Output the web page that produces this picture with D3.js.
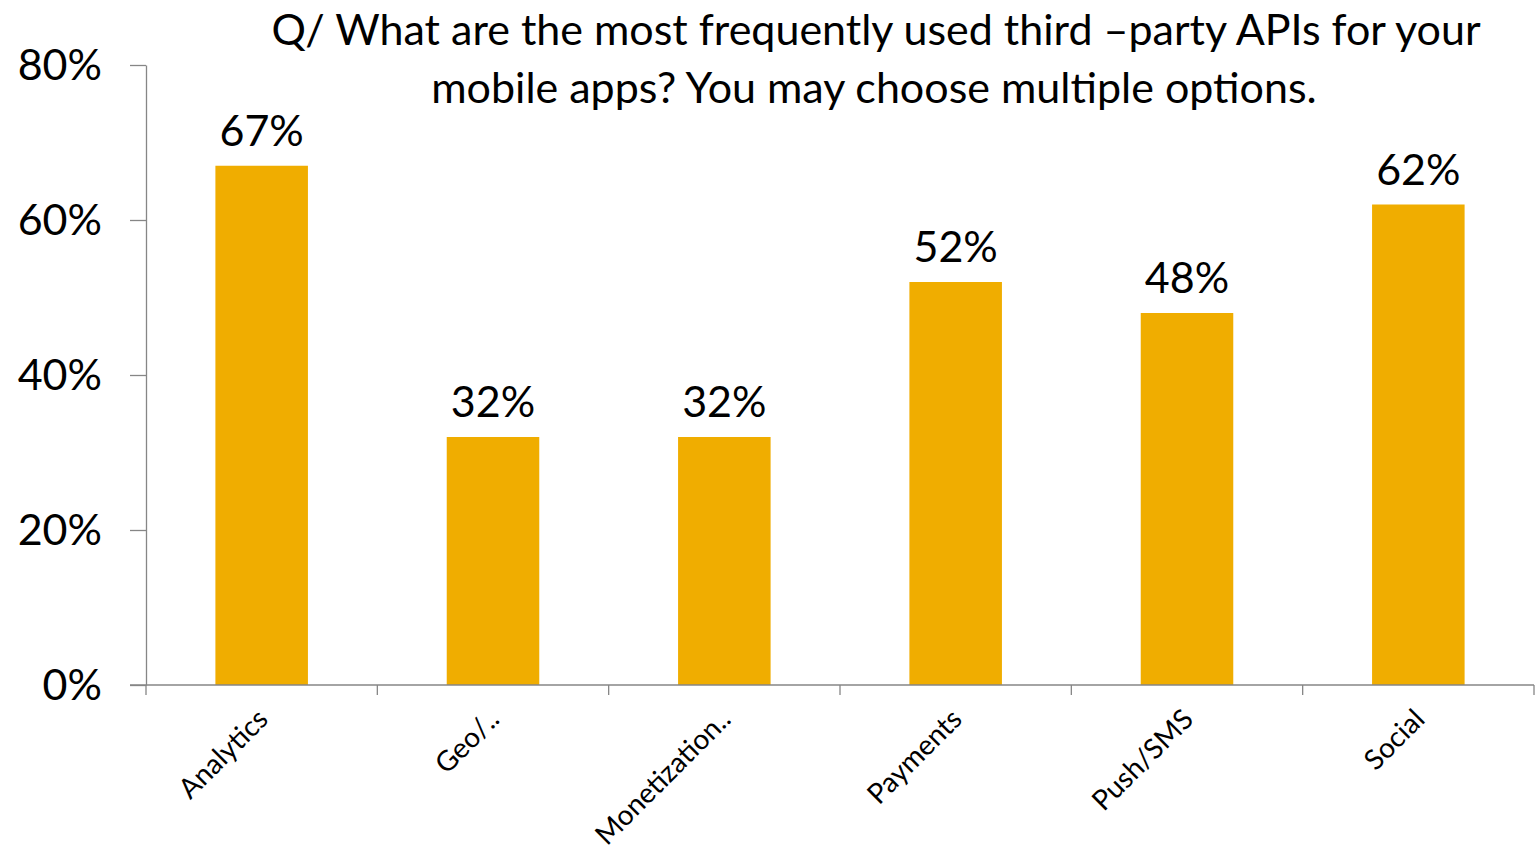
<!DOCTYPE html>
<html>
<head>
<meta charset="utf-8">
<script src="https://cdn.jsdelivr.net/npm/d3@7"></script>
<style>
  html, body { margin: 0; padding: 0; background: #ffffff; }
  svg { display: block; font-family: Lato, "Open Sans", sans-serif; }
</style>
</head>
<body>
<svg id="chart" width="1537" height="850"></svg>
<script>
// Survey: share of respondents using each third-party API category
const categories = ["Analytics", "Geo/..", "Monetization..", "Payments", "Push/SMS", "Social"];
const shares = [0.67, 0.32, 0.32, 0.52, 0.48, 0.62];
const yTicks = [0, 0.2, 0.4, 0.6, 0.8];
const titleLines = [
  "Q/ What are the most frequently used third \u2013party APIs for your",
  "mobile apps? You may choose multiple options."
];

const svg = d3.select("#chart");
const margin = { left: 146, right: 3, top: 65, bottom: 165 };
const W = 1537, H = 850;

const x = d3.scaleBand()
  .domain(categories)
  .range([margin.left, W - margin.right])
  .paddingInner(0.6)
  .paddingOuter(0.3);

const y = d3.scaleLinear()
  .domain([0, 0.8])
  .range([H - margin.bottom, margin.top]);

const axisColor = "#868686";
const fmt = d3.format(".0%");

// Bars
svg.append("g")
  .selectAll("rect")
  .data(categories)
  .join("rect")
  .attr("x", (d) => x(d))
  .attr("y", (d, i) => y(shares[i]))
  .attr("width", x.bandwidth())
  .attr("height", (d, i) => y(0) - y(shares[i]))
  .attr("fill", "#F0AD00");

// Value labels
svg.append("g")
  .selectAll("text")
  .data(categories)
  .join("text")
  .attr("x", (d) => x(d) + x.bandwidth() / 2)
  .attr("y", (d, i) => y(shares[i]) - 20)
  .attr("text-anchor", "middle")
  .attr("font-size", 43)
  .attr("fill", "#000")
  .text((d, i) => fmt(shares[i]));

// Y axis
const yAxis = svg.append("g")
  .attr("transform", `translate(${margin.left},0)`)
  .call(d3.axisLeft(y).tickValues(yTicks).tickFormat(fmt).tickSize(16).tickSizeOuter(0));
yAxis.select(".domain").attr("stroke", axisColor).attr("stroke-width", 1.3);
yAxis.selectAll(".tick line").attr("stroke", axisColor).attr("stroke-width", 1.3);
yAxis.selectAll(".tick text")
  .attr("font-size", 43)
  .attr("font-family", "Lato, sans-serif")
  .attr("fill", "#000")
  .attr("x", -44)
  .attr("dy", "0.34em");

// X axis: ticks sit on the band boundaries
const xAxisG = svg.append("g")
  .attr("transform", `translate(0,${y(0)})`);
xAxisG.append("line")
  .attr("x1", margin.left - 16)
  .attr("x2", W - margin.right)
  .attr("stroke", axisColor)
  .attr("stroke-width", 1.3);
const bandSpan = (W - margin.right - margin.left) / categories.length;
const edges = d3.range(categories.length + 1).map((i) => margin.left + i * bandSpan);
xAxisG.selectAll("line.tick")
  .data(edges)
  .join("line")
  .attr("class", "tick")
  .attr("x1", (d) => d)
  .attr("x2", (d) => d)
  .attr("y1", 0)
  .attr("y2", 10)
  .attr("stroke", axisColor)
  .attr("stroke-width", 1.3);

// Category labels, rotated
xAxisG.selectAll("text")
  .data(categories)
  .join("text")
  .attr("transform", (d) => `translate(${x(d) + x.bandwidth() / 2 + 8},${36}) rotate(-45)`)
  .attr("text-anchor", "end")
  .attr("font-size", 28)
  .attr("fill", "#000")
  .text((d) => d);

// Title
svg.append("g")
  .selectAll("text")
  .data(titleLines)
  .join("text")
  .attr("x", (d, i) => i === 0 ? 876 : 874)
  .attr("y", (d, i) => 45 + i * 58)
  .attr("text-anchor", "middle")
  .attr("font-size", 43)
  .attr("fill", "#000")
  .text((d) => d);
</script>
</body>
</html>
